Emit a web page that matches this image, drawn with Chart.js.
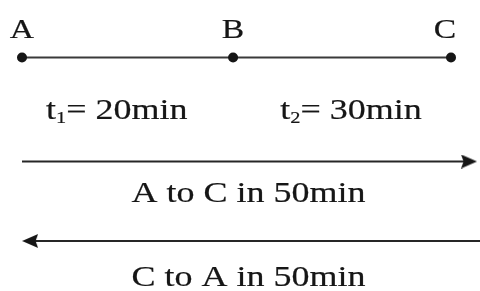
<!DOCTYPE html>
<html>
<head>
<meta charset="utf-8">
<script src="https://cdn.jsdelivr.net/npm/chart.js@4/dist/chart.umd.min.js"></script>
<style>
  html, body { margin: 0; padding: 0; background: #fff; }
  #wrap { width: 480px; height: 291px; }
</style>
</head>
<body>
<div id="wrap"><canvas id="c"></canvas></div>
<script>
// stations along the track (x position in % of A..C distance)
const stationNames = ['A', 'B', 'C'];
const stationPos = [0, 49.2, 100];
// travel time of each segment, minutes
const segmentMinutes = [20, 30];
const segmentLabelPos = [22.1, 76.7];
// arrows: start / end positions
const forwardArrow = [0, 104.2];
const backwardArrow = [106.8, 1.9];
const directionLabelPos = 52.8;
// horizontal range shown
const xRange = [-5.13, 106.76];
// vertical rows (pixel-like units, top = 0)
const rows = { letters: 38, track: 57.5, times: 119, arrow1: 161.5, text1: 202, arrow2: 241, text2: 286 };

const totalMinutes = segmentMinutes.reduce((a, b) => a + b, 0);
const serif = '"Liberation Serif", "Times New Roman", serif';
const ink = '#161616';
const stretch = 1.2; // the original lettering is a bit wide

// arrowhead image, pointing right
const head = document.createElement('canvas');
head.width = 16; head.height = 14;
(() => {
    const g = head.getContext('2d');
    g.fillStyle = ink;
    g.beginPath();
    g.moveTo(16, 7);
    g.lineTo(0, 0);
    g.lineTo(2.5, 7);
    g.lineTo(0, 14);
    g.closePath();
    g.fill();
})();

// draws a list of [text, size, dy] runs centred on cx
function drawRuns(ctx, runs, cx, by) {
    let w = 0;
    runs.forEach(r => { ctx.font = r[1] + 'px ' + serif; w += ctx.measureText(r[0]).width; });
    ctx.save();
    ctx.translate(cx, by);
    ctx.scale(stretch, 1);
    let px = -w / 2;
    ctx.textAlign = 'left';
    ctx.strokeStyle = ink;
    ctx.lineWidth = 0.2;
    runs.forEach(r => {
        ctx.font = r[1] + 'px ' + serif;
        ctx.fillText(r[0], px, r[2]);
        ctx.strokeText(r[0], px, r[2]);
        px += ctx.measureText(r[0]).width;
    });
    ctx.restore();
}

const textPlugin = {
    id: 'diagramText',
    afterDatasetsDraw(chart) {
        const { ctx, scales: { x, y } } = chart;
        ctx.save();
        ctx.fillStyle = ink;
        ctx.textBaseline = 'alphabetic';

        // station letters
        stationNames.forEach((n, i) => {
            drawRuns(ctx, [[n, 28, 0]], x.getPixelForValue(stationPos[i]) - (i === 2 ? 6 : 0), y.getPixelForValue(rows.letters));
        });

        // t1 = 20min, t2 = 30min with subscripts
        segmentMinutes.forEach((m, i) => {
            drawRuns(ctx, [['t', 30, 0], [String(i + 1), 17, 4], ['= ' + m + 'min', 30, 0]],
                x.getPixelForValue(segmentLabelPos[i]), y.getPixelForValue(rows.times));
        });

        const cx = x.getPixelForValue(directionLabelPos);
        drawRuns(ctx, [[stationNames[0] + ' to ' + stationNames[2] + ' in ' + totalMinutes + 'min', 30, 0]], cx, y.getPixelForValue(rows.text1));
        drawRuns(ctx, [[stationNames[2] + ' to ' + stationNames[0] + ' in ' + totalMinutes + 'min', 30, 0]], cx, y.getPixelForValue(rows.text2));
        ctx.restore();
    }
};

new Chart(document.getElementById('c'), {
    type: 'scatter',
    data: {
        datasets: [
            {
                label: 'track',
                data: stationPos.map(p => ({ x: p, y: rows.track })),
                showLine: true,
                borderColor: '#3a3a3a',
                borderWidth: 2,
                pointRadius: 5,
                pointBackgroundColor: ink,
                pointBorderWidth: 0,
                clip: false
            },
            {
                label: 'A to C',
                data: forwardArrow.map(p => ({ x: p, y: rows.arrow1 })),
                showLine: true,
                borderColor: '#262626',
                borderWidth: 2,
                pointStyle: [false, head],
                pointRotation: 0,
                clip: false
            },
            {
                label: 'C to A',
                data: backwardArrow.map(p => ({ x: p, y: rows.arrow2 })),
                showLine: true,
                borderColor: '#262626',
                borderWidth: 2,
                pointStyle: [false, head],
                pointRotation: 180,
                clip: false
            }
        ]
    },
    options: {
        responsive: true,
        maintainAspectRatio: false,
        animation: false,
        layout: { padding: 0, autoPadding: false },
        plugins: { legend: { display: false }, tooltip: { enabled: false } },
        scales: {
            x: { type: 'linear', min: xRange[0], max: xRange[1], display: false },
            y: { type: 'linear', min: 0, max: 291, reverse: true, display: false }
        }
    },
    plugins: [textPlugin]
});
</script>
</body>
</html>
